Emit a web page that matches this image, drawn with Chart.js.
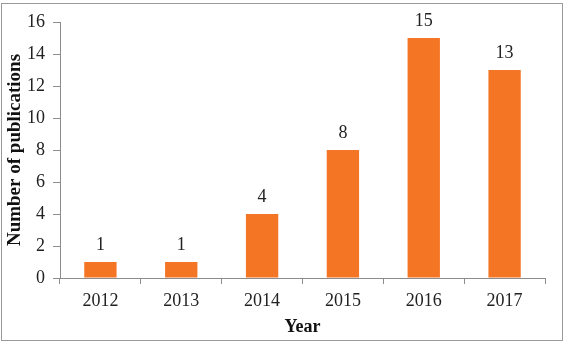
<!DOCTYPE html>
<html><head><meta charset="utf-8">
<script src="https://cdn.jsdelivr.net/npm/chart.js@4"></script>
<style>
html,body{margin:0;padding:0;background:#fff;}
#wrap{position:absolute;left:0;top:0;width:567px;height:344px;}
#frame{position:absolute;left:1px;top:3px;width:562px;height:338px;border:1px solid #9a9a9a;box-sizing:border-box;}
canvas{position:absolute;left:0;top:0;}
</style></head>
<body>
<div id="wrap"><div id="frame"></div><canvas id="c" width="567" height="344"></canvas></div>
<script>
const categories = ["2012","2013","2014","2015","2016","2017"];
const publications = [1,1,4,8,15,13];
const yTicks = [0,2,4,6,8,10,12,14,16];

const FAM = '"Liberation Serif", serif';

const labelPlugin = {
  id:'labels',
  afterDatasetsDraw(chart){
    const ctx = chart.ctx;
    const meta = chart.getDatasetMeta(0);
    ctx.save();
    ctx.font = '18px ' + FAM;
    ctx.fillStyle = '#222';
    ctx.textAlign = 'center';
    ctx.textBaseline = 'middle';
    meta.data.forEach((bar,i)=>{
      ctx.fillText(String(publications[i]), bar.x, bar.y - 17);
    });
    ctx.restore();
  }
};

function draw(){
  Chart.defaults.font.family = FAM;
  Chart.defaults.color = '#222';
  new Chart(document.getElementById('c'), {
    type:'bar',
    data:{labels:categories, datasets:[{data:publications, backgroundColor:'#f47625', barPercentage:0.4, categoryPercentage:1.0}]},
    options:{
      responsive:false, animation:false,
      layout:{padding:{top:22,right:22,left:0,bottom:0}},
      plugins:{legend:{display:false}, tooltip:{enabled:false}},
      scales:{
        x:{
          grid:{display:true, drawOnChartArea:false, drawTicks:true, tickLength:6, color:'#8c8c8c', offset:true},
          border:{display:true, color:'#8c8c8c', width:1},
          ticks:{font:{size:18, family:FAM}, color:'#222', padding:6},
          title:{display:true, text:'Year', font:{size:18, weight:'bold', family:FAM}, color:'#111', padding:{top:4,bottom:6}},
          afterFit(s){ s.height = 66; }
        },
        y:{
          min:0, max:16,
          afterBuildTicks(s){ s.ticks = yTicks.map(v=>({value:v})); },
          grid:{display:true, drawOnChartArea:false, drawTicks:true, tickLength:7, color:'#8c8c8c'},
          border:{display:true, color:'#8c8c8c', width:1},
          ticks:{font:{size:18, family:FAM}, color:'#222', padding:8},
          title:{display:true, text:'Number of publications', font:{size:19, weight:'bold', family:FAM}, color:'#111', padding:{top:4,bottom:0}},
          afterFit(s){ s.width = 60; }
        }
      }
    },
    plugins:[labelPlugin]
  });
}
Promise.all([
  document.fonts.load('18px "Liberation Serif"'),
  document.fonts.load('bold 19px "Liberation Serif"')
]).then(draw, draw);
</script>
</body></html>
